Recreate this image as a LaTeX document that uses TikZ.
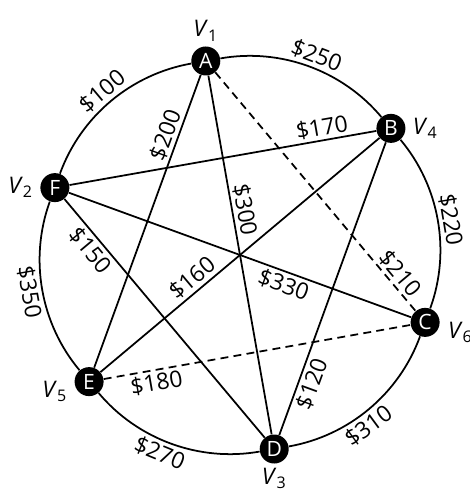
\documentclass[tikz,border=0pt]{standalone}
\usepackage{fontspec}
\setmainfont{Open Sans}
\usetikzlibrary{positioning}
\tikzset{
  vertice/.style={circle,fill=black,text=white,minimum size=0.58cm,inner sep=0pt,
    font=\fontsize{12}{13}\selectfont},
  arista/.style={line width=1pt},
  punteada/.style={arista,dash pattern=on 4.5pt off 3pt},
  arco/.style={arista,looseness=0.91},
  precio/.style={sloped,inner sep=1.5pt,font=\fontsize{13}{15}\selectfont},
  etiq/.style={inner sep=1pt,font=\fontsize{13}{15}\selectfont},
}

\begin{document}
\begin{tikzpicture}
  \useasboundingbox (-4.80,-4.78) rectangle (4.58,5.10);
  % vertices
  \node[vertice] (A) at (100:3.94) {A};
  \node[vertice] (B) at (40:3.94) {B};
  \node[vertice] (C) at (-20:3.94) {C};
  \node[vertice] (D) at (-80:3.94) {D};
  \node[vertice] (E) at (-140:3.94) {E};
  \node[vertice] (F) at (160:3.94) {F};
  \node[etiq,above=0.06cm of A] (v1) {\textit{V}\textsubscript{1}};
  \node[etiq,left=0.1cm of F] (v2) {\textit{V}\textsubscript{2}};
  \node[etiq,below=0.04cm of D] (v3) {\textit{V}\textsubscript{3}};
  \node[etiq,right=0.1cm of B] (v4) {\textit{V}\textsubscript{4}};
  \node[etiq,left=0.1cm of E,yshift=-0.2cm] (v5) {\textit{V}\textsubscript{5}};
  \node[etiq,right=0.12cm of C,yshift=-0.2cm] (v6) {\textit{V}\textsubscript{6}};
  % circle
  \draw[arco] (A) to[bend left=30] node[precio,above,pos=0.52] {\$250} (B);
  \draw[arco] (B) to[bend left=30] node[precio,above,pos=0.51] {\$220} (C);
  \draw[arco] (D) to[bend right=30] node[precio,below,pos=0.44] {\$310} (C);
  \draw[arco] (E) to[bend right=30] node[precio,below,pos=0.46] {\$270} (D);
  \draw[arco] (F) to[bend right=30] node[precio,below] {\$350} (E);
  \draw[arco] (F) to[bend left=30] node[precio,above] {\$100} (A);
  % chords
  \draw[arista] (E) -- node[precio,above,pos=0.78] {\$200} (A);
  \draw[arista] (A) -- node[precio,above,pos=0.38] {\$300} (D);
  \draw[punteada] (A) -- node[precio,above,pos=0.875] {\$210} (C);
  \draw[arista] (F) -- node[precio,above,pos=0.83] {\$170} (B);
  \draw[arista] (F) -- node[precio,below,pos=0.64] {\$330} (C);
  \draw[arista] (F) -- node[precio,below,pos=0.18] {\$150} (D);
  \draw[arista] (E) -- node[precio,above,pos=0.36] {\$160} (B);
  \draw[punteada] (E) -- node[precio,below,pos=0.165] {\$180} (C);
  \draw[arista] (D) -- node[precio,below,pos=0.19] {\$120} (B);
\end{tikzpicture}
\end{document}
